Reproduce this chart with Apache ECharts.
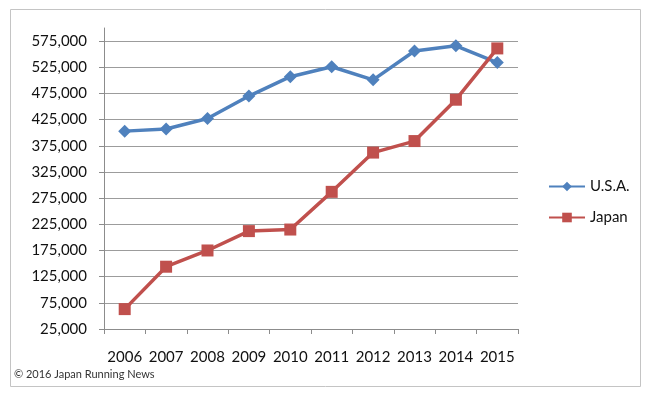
<!DOCTYPE html>
<html>
<head>
<meta charset="utf-8">
<script src="https://cdn.jsdelivr.net/npm/echarts@6/dist/echarts.min.js"></script>
<style>html,body{margin:0;padding:0;background:#fff}#c{width:650px;height:394px}</style>
</head>
<body>
<div id="c"></div>
<script>
var years = ['2006','2007','2008','2009','2010','2011','2012','2013','2014','2015'];
var usa = [403000, 407000, 427000, 470000, 507000, 526000, 501000, 556000, 566000, 534000];
var japan = [63000, 144000, 175000, 212000, 215000, 287000, 362000, 384000, 463000, 561000];
var yMin = 25000, yMax = 600000, yStep = 50000;
var seriesNames = ['U.S.A.', 'Japan'];

var chart = echarts.init(document.getElementById('c'), null, {renderer: 'canvas'});
var font = 'Lato, "Open Sans", sans-serif';
chart.setOption({
  backgroundColor: '#fff',
  animation: false,
  graphic: [
    {type: 'rect', shape: {x: 10.5, y: 9.5, width: 630, height: 377}, style: {fill: 'none', stroke: '#c4c4c4', lineWidth: 1}, z: -1},
    {type: 'text', left: 14, top: 369, style: {text: '\u00a9 2016 Japan Running News', font: '11px ' + font, fill: '#333'}}
  ],
  grid: {left: 104, right: 132, top: 28, bottom: 65},
  legend: {
    orient: 'vertical', left: 543, top: 174, itemWidth: 36, itemHeight: 12, itemGap: 16,
    textStyle: {fontFamily: font, fontSize: 15, color: '#111'},
    data: seriesNames
  },
  xAxis: {
    type: 'category', data: years, boundaryGap: true,
    axisLine: {lineStyle: {color: '#8c8c8c', width: 1}},
    axisTick: {show: true, length: 5, lineStyle: {color: '#8c8c8c'}},
    axisLabel: {fontFamily: font, fontSize: 15, color: '#111', margin: 21, interval: 0, hideOverlap: false}
  },
  yAxis: {
    type: 'value', min: yMin, max: yMax, interval: yStep,
    axisLine: {show: true, lineStyle: {color: '#8c8c8c', width: 1}},
    axisTick: {show: true, length: 5, lineStyle: {color: '#8c8c8c'}},
    axisLabel: {fontFamily: font, fontSize: 15, color: '#111', margin: 17, showMaxLabel: false,
      formatter: function (v) { return v >= yMax ? '' : v.toLocaleString('en-US'); }},
    splitLine: {show: true, showMaxLine: false, lineStyle: {color: '#9c9c9c', width: 1}}
  },
  series: [
    {name: seriesNames[0], type: 'line', data: usa, symbol: 'diamond', symbolSize: 13,
      lineStyle: {color: '#4f81bd', width: 3.5}, itemStyle: {color: '#4f81bd'}},
    {name: seriesNames[1], type: 'line', data: japan, symbol: 'rect', symbolSize: 12,
      lineStyle: {color: '#c0504d', width: 3.5}, itemStyle: {color: '#c0504d'}}
  ]
});
</script>
</body>
</html>
